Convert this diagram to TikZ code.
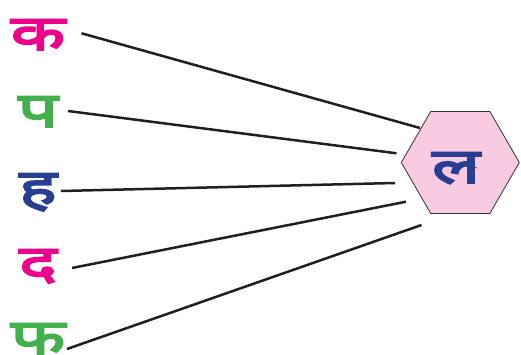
\documentclass[tikz,border=0pt]{standalone}
\usepackage{fontspec}
\newfontfamily\deva[Script=Devanagari,FakeBold=4,FakeStretch=1.45]{Noto Sans}
\usetikzlibrary{shapes.geometric}
\definecolor{magentaL}{HTML}{EC008C}
\definecolor{greenL}{HTML}{43B14B}
\definecolor{blueL}{HTML}{283F91}
\definecolor{pinkF}{HTML}{F9CBE2}
\begin{document}
\begin{tikzpicture}[x=1pt,y=-1pt,
  letter/.style={anchor=base,inner sep=0pt,font=\deva\fontsize{49}{49}\selectfont},
  link/.style={line width=2.5pt,draw=black!88}]
\useasboundingbox (0,0) rectangle (521,355);
\node[letter,text=magentaL] (ka) at (38,50) {क};
\node[letter,text=greenL] (pa) at (38,127) {प};
\node[letter,text=blueL] (ha) at (38,204) {ह};
\node[letter,text=magentaL] (da) at (38,280) {द};
\node[letter,text=greenL] (pha) at (38,354) {फ};
\node[regular polygon,regular polygon sides=6,minimum size=118pt,inner sep=0pt,
  fill=pinkF,draw=black!80,line width=0.8pt] (hex) at (460.3,162.5) {};
\node[letter,text=blueL] (la) at (456,183) {ल};
\coordinate (s1) at (81.5,33.3);
\coordinate (s2) at (68,111);
\coordinate (s3) at (61,191);
\coordinate (s4) at (72,268);
\coordinate (s5) at (67,349);
\coordinate (e1) at (420,128);
\coordinate (e2) at (396.5,153.3);
\coordinate (e3) at (395,183);
\coordinate (e4) at (406,201.7);
\coordinate (e5) at (421.5,225);
\draw[link] (s1) -- (e1);
\draw[link] (s2) -- (e2);
\draw[link] (s3) -- (e3);
\draw[link] (s4) -- (e4);
\draw[link] (s5) -- (e5);
\end{tikzpicture}
\end{document}
